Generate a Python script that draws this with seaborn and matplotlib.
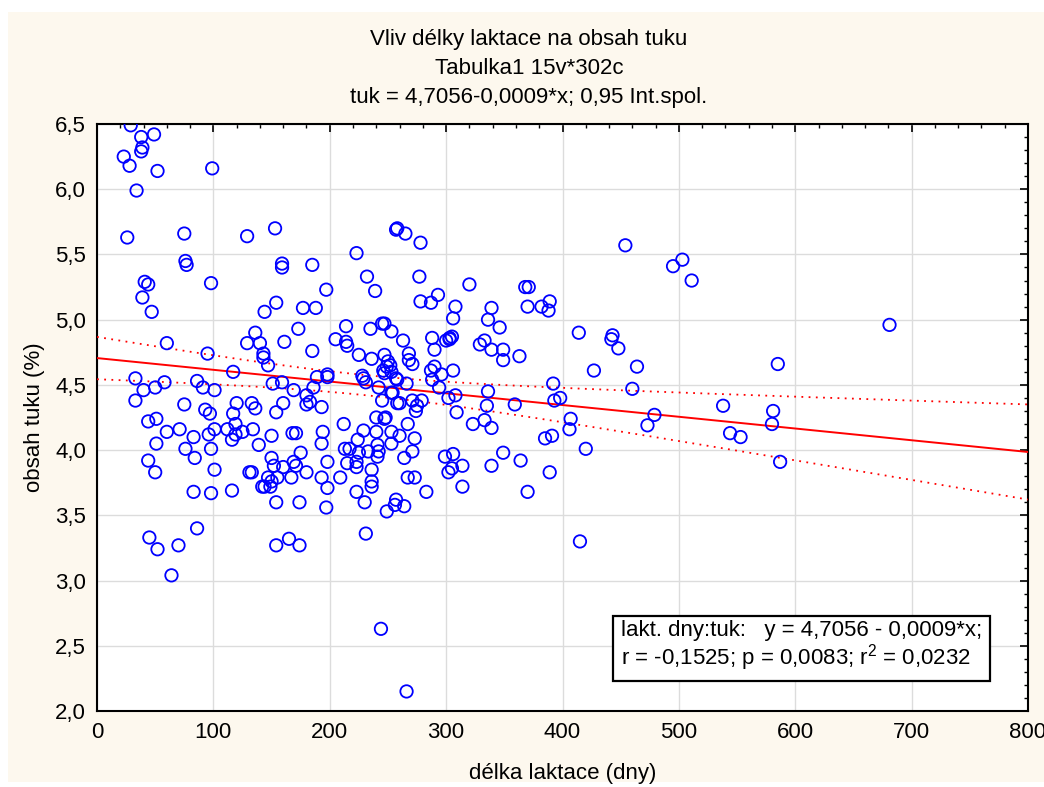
import numpy as np
import pandas as pd
import seaborn as sns
import matplotlib.pyplot as plt
from matplotlib.patches import Rectangle
from matplotlib.ticker import MultipleLocator, FuncFormatter

# délka laktace (dny), obsah tuku (%)
dny = [29, 38, 49, 39, 38, 23, 28, 52, 99, 34, 26, 75, 76, 77, 98, 41, 44, 39, 47, 60,
       95, 117, 33, 40, 50, 58, 86, 91, 101, 33, 75, 120, 93, 97, 117, 44, 51, 60, 71, 83,
       96, 101, 112, 119, 119, 125, 116, 51, 76, 98, 44, 84, 50, 101, 131, 83, 98, 116, 86, 45,
       52, 70, 64, 129, 129,
       153, 257, 223, 159, 159, 185, 232, 239, 197, 154, 144, 177, 188, 173, 214, 235, 245, 247, 253, 136,
       140, 161, 205, 214, 215, 185, 143, 143, 147, 225, 236, 247, 250, 252, 249, 246, 247, 253, 257, 189,
       198, 198, 228, 229, 231, 151, 159, 169, 186, 180, 242, 253, 245, 258, 180, 183, 160, 193, 133, 136,
       154,
       134, 150, 139, 168, 171, 194, 193, 212, 240, 248, 247, 229, 240, 253, 224, 241, 253, 213, 217, 225,
       233, 242, 241, 175, 150, 198, 169, 171, 152, 160, 180, 133, 215, 223, 223, 236, 147, 155, 167, 150,
       142, 144, 149, 193, 209, 236, 236, 198, 223, 230, 154, 174, 197, 249, 256, 257, 231, 154, 165, 174,
       244,
       258, 265, 278, 277, 320, 368, 371, 293, 278, 287, 308, 306, 339, 336, 346, 370, 382, 389, 388, 263,
       288, 290, 300, 303, 305, 303, 333, 329, 339, 349, 349, 363, 268, 268, 271, 287, 290, 296, 306, 288,
       294, 258, 266, 392, 336, 254, 302, 308, 260, 271, 275, 279, 335, 359, 393, 398, 309,
       274, 267, 260, 273, 271, 264, 267, 273, 283, 264, 323, 333, 339, 385, 391, 299, 306, 305, 302, 314,
       314, 339, 349, 364, 370, 389, 266,
       454, 495, 503, 511, 414, 443, 442, 448, 464, 427, 585, 460, 538, 479, 473, 407, 406, 581, 580, 544,
       553, 420, 587, 415, 681]
tuk = [6.49, 6.40, 6.42, 6.32, 6.29, 6.25, 6.18, 6.14, 6.16, 5.99, 5.63, 5.66, 5.45, 5.42, 5.28, 5.29, 5.27, 5.17, 5.06, 4.82,
       4.74, 4.60, 4.55, 4.46, 4.48, 4.52, 4.53, 4.48, 4.46, 4.38, 4.35, 4.36, 4.31, 4.28, 4.28, 4.22, 4.24, 4.14, 4.16, 4.10,
       4.12, 4.16, 4.16, 4.20, 4.12, 4.14, 4.08, 4.05, 4.01, 4.01, 3.92, 3.94, 3.83, 3.85, 3.83, 3.68, 3.67, 3.69, 3.40, 3.33,
       3.24, 3.27, 3.04, 5.64, 4.82,
       5.70, 5.69, 5.51, 5.43, 5.40, 5.42, 5.33, 5.22, 5.23, 5.13, 5.06, 5.09, 5.09, 4.93, 4.95, 4.93, 4.97, 4.97, 4.91, 4.90,
       4.82, 4.83, 4.85, 4.83, 4.80, 4.76, 4.74, 4.71, 4.65, 4.73, 4.70, 4.73, 4.68, 4.65, 4.64, 4.61, 4.59, 4.60, 4.55, 4.56,
       4.58, 4.56, 4.57, 4.55, 4.52, 4.51, 4.52, 4.46, 4.48, 4.42, 4.48, 4.44, 4.38, 4.36, 4.35, 4.37, 4.36, 4.33, 4.36, 4.32,
       4.29,
       4.16, 4.11, 4.04, 4.13, 4.13, 4.14, 4.05, 4.20, 4.25, 4.25, 4.24, 4.15, 4.14, 4.14, 4.08, 4.04, 4.05, 4.01, 4.01, 3.98,
       3.99, 3.99, 3.95, 3.98, 3.94, 3.91, 3.91, 3.88, 3.88, 3.87, 3.83, 3.83, 3.90, 3.91, 3.87, 3.85, 3.79, 3.79, 3.79, 3.76,
       3.72, 3.72, 3.72, 3.79, 3.79, 3.76, 3.72, 3.71, 3.68, 3.60, 3.60, 3.60, 3.56, 3.53, 3.58, 3.62, 3.36, 3.27, 3.32, 3.27,
       2.63,
       5.70, 5.66, 5.59, 5.33, 5.27, 5.25, 5.25, 5.19, 5.14, 5.13, 5.10, 5.01, 5.09, 5.00, 4.94, 5.10, 5.10, 5.14, 5.07, 4.84,
       4.86, 4.77, 4.84, 4.86, 4.87, 4.85, 4.84, 4.81, 4.77, 4.77, 4.69, 4.72, 4.74, 4.69, 4.66, 4.61, 4.64, 4.58, 4.61, 4.54,
       4.48, 4.54, 4.51, 4.51, 4.45, 4.44, 4.40, 4.42, 4.36, 4.38, 4.34, 4.38, 4.34, 4.35, 4.38, 4.40, 4.29,
       4.30, 4.20, 4.11, 4.09, 3.99, 3.94, 3.79, 3.79, 3.68, 3.57, 4.20, 4.23, 4.17, 4.09, 4.11, 3.95, 3.97, 3.86, 3.83, 3.88,
       3.72, 3.88, 3.98, 3.92, 3.68, 3.83, 2.15,
       5.57, 5.41, 5.46, 5.30, 4.90, 4.88, 4.85, 4.78, 4.64, 4.61, 4.66, 4.47, 4.34, 4.27, 4.19, 4.24, 4.16, 4.30, 4.20, 4.13,
       4.10, 4.01, 3.91, 3.30, 4.96]

# koeficienty regrese uvedené v grafu
b0 = 4.7056
b1 = -0.0009

df = pd.DataFrame({"dny": dny, "tuk": tuk})

sns.set_style("white")
plt.rcParams["font.family"] = ["Liberation Sans", "DejaVu Sans"]
plt.rcParams["mathtext.fontset"] = "custom"
plt.rcParams["mathtext.rm"] = "Liberation Sans"
plt.rcParams["mathtext.it"] = "Liberation Sans"
plt.rcParams["text.color"] = "black"
plt.rcParams["axes.labelcolor"] = "black"

fig = plt.figure(figsize=(10.44, 7.87), dpi=100)
fig.patch.set_facecolor("white")
fig.patches.append(Rectangle((8 / 1044, 5 / 787), 1036 / 1044, 770 / 787,
                             transform=fig.transFigure, facecolor="#fdf8ee",
                             edgecolor="none", zorder=-10))
ax = fig.add_axes([97 / 1044, 76 / 787, 931 / 1044, 587 / 787])
ax.set_zorder(1)
ax.set_facecolor("white")

# přímka + 95% interval spolehlivosti
x = df["dny"].to_numpy(float)
y = df["tuk"].to_numpy(float)
n = len(x)
resid = y - (b0 + b1 * x)
s = np.sqrt((resid ** 2).sum() / (n - 2))
sxx = ((x - x.mean()) ** 2).sum()
xs = np.linspace(0, 800, 200)
yhat = b0 + b1 * xs
se = s * np.sqrt(1 / n + (xs - x.mean()) ** 2 / sxx)
t = 1.968

ax.plot(xs, yhat, color="red", lw=1.4, zorder=3)
ax.plot(xs, yhat + t * se, color="red", lw=1.3, ls=(0, (1, 3)), zorder=3)
ax.plot(xs, yhat - t * se, color="red", lw=1.3, ls=(0, (1, 3)), zorder=3)

sns.scatterplot(data=df, x="dny", y="tuk", ax=ax, s=80, marker="o",
                facecolor="none", edgecolor="blue", linewidth=1.3, zorder=4)

ax.set_xlim(0, 800)
ax.set_ylim(2.0, 6.5)
ax.xaxis.set_major_locator(MultipleLocator(100))
ax.xaxis.set_minor_locator(MultipleLocator(20))
ax.yaxis.set_major_locator(MultipleLocator(0.5))
ax.yaxis.set_minor_locator(MultipleLocator(0.1))
ax.yaxis.set_major_formatter(FuncFormatter(lambda v, p: f"{v:.1f}".replace(".", ",")))
ax.xaxis.set_major_formatter(FuncFormatter(lambda v, p: f"{v:.0f}"))
ax.tick_params(which="both", direction="in", top=True, right=True,
               labelsize=16, colors="black")
ax.tick_params(which="major", length=6, width=1.2, pad=8)
ax.tick_params(which="minor", length=3, width=1)
ax.grid(True, which="major", color="#dcdcdc", lw=1)
ax.set_axisbelow(True)
for sp in ax.spines.values():
    sp.set_color("black")
    sp.set_linewidth(1.5)

ax.set_xlabel("délka laktace (dny)", fontsize=16, labelpad=14)
ax.set_ylabel("obsah tuku (%)", fontsize=16, labelpad=7)

fig.text(529 / 1044, 1 - 40 / 787, "Vliv délky laktace na obsah tuku", ha="center", va="center", fontsize=16)
fig.text(529 / 1044, 1 - 68 / 787, "Tabulka1 15v*302c", ha="center", va="center", fontsize=16)
fig.text(529 / 1044, 1 - 97 / 787, "tuk = 4,7056-0,0009*x; 0,95 Int.spol.", ha="center", va="center", fontsize=16)

ax.text(0.563, 0.110,
        "lakt. dny:tuk:   y = 4,7056 - 0,0009*x;\nr = -0,1525; p = 0,0083; r$^2$ = 0,0232",
        transform=ax.transAxes, ha="left", va="center", fontsize=16, linespacing=1.05,
        bbox=dict(boxstyle="square,pad=0.35", facecolor="white", edgecolor="black", lw=1.6),
        zorder=6)

plt.savefig("out.png", dpi=100)
